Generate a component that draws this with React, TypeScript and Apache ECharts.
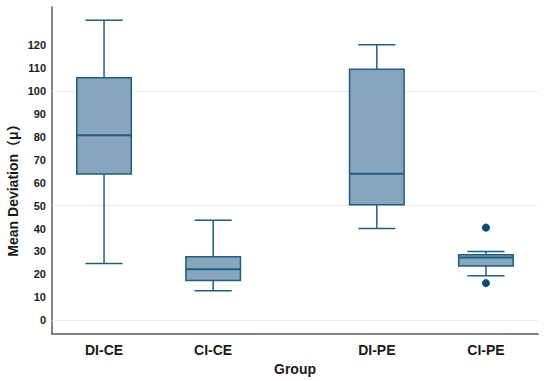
import React, { useEffect, useRef } from "react";
import * as echarts from "echarts";

const categories = ["DI-CE", "CI-CE", "DI-PE", "CI-PE"];
const positions = [0, 1, 2.5, 3.5];
// [min, Q1, median, Q3, max]
const boxValues = [
  [24.8, 63.8, 80.6, 105.7, 130.7],
  [12.9, 17.3, 22.3, 27.7, 43.6],
  [40.0, 50.3, 63.9, 109.4, 120.1],
  [19.4, 23.7, 27.4, 28.6, 30.0],
];
const outliers = [
  [3.5, 40.4],
  [3.5, 16.2],
];
const yTicks = [0, 10, 20, 30, 40, 50, 60, 70, 80, 90, 100, 110, 120];
const gridValues = [0, 50, 100];

const FONT = "'Liberation Sans', 'Noto Sans CJK JP', sans-serif";
const STROKE = "#225d7d";
const FILL = "#86a6bd";

export default function App() {
  const ref = useRef<HTMLDivElement>(null);
  useEffect(() => {
    document.body.style.margin = "0";
    if (!ref.current) return;
    const chart = echarts.init(ref.current, null, { renderer: "svg" });
    const data = boxValues.map((b, i) => [positions[i], ...b]);
    chart.setOption({
      animation: false,
      backgroundColor: "#ffffff",
      grid: { left: 52, right: 12, top: 7, bottom: 46 },
      xAxis: {
        type: "value",
        min: -0.477,
        max: 3.977,
        splitLine: { show: false },
        axisTick: { show: false },
        axisLine: { show: true, onZero: false, lineStyle: { color: "#5a5a5a", width: 1.5 } },
        axisLabel: {
          customValues: positions,
          margin: 9,
          fontSize: 14,
          fontWeight: "bold",
          color: "#1a1a1a",
          fontFamily: FONT,
          formatter: (v: number) => {
            const i = positions.findIndex((p) => Math.abs(p - v) < 1e-6);
            return i >= 0 ? categories[i] : "";
          },
        },
        name: "Group",
        nameLocation: "middle",
        nameGap: 25,
        nameTextStyle: { fontSize: 14, fontWeight: "bold", color: "#1a1a1a", fontFamily: FONT },
      },
      yAxis: {
        type: "value",
        min: -6,
        max: 136.5,
        splitLine: { show: false },
        axisTick: { show: false },
        axisLine: { show: true, onZero: false, lineStyle: { color: "#5a5a5a", width: 1.5 } },
        axisLabel: {
          customValues: yTicks,
          margin: 6,
          fontSize: 11,
          fontWeight: "bold",
          color: "#1a1a1a",
          fontFamily: FONT,
        },
      },
      graphic: [
        {
          type: "text",
          x: 13,
          y: 187,
          rotation: Math.PI / 2,
          style: {
            text: "Mean Deviation（μ）",
            fontSize: 14,
            fontWeight: "bold",
            fill: "#1a1a1a",
            fontFamily: FONT,
            align: "center",
            verticalAlign: "middle",
          },
        },
      ],
      series: [
        {
          type: "custom",
          encode: { x: 0, y: [1, 2, 3, 4, 5] },
          data,
          z: 3,
          markLine: {
            silent: true,
            symbol: "none",
            label: { show: false },
            lineStyle: { color: "#e6ecef", width: 1, type: "solid" },
            data: gridValues.map((v) => ({ yAxis: v })),
            z: 1,
          },
          renderItem: (params: any, api: any) => {
            const x = api.value(0);
            const mn = api.coord([x, api.value(1)]);
            const q1 = api.coord([x, api.value(2)]);
            const md = api.coord([x, api.value(3)]);
            const q3 = api.coord([x, api.value(4)]);
            const mx = api.coord([x, api.value(5)]);
            const boxHalf = api.size([0.25, 0])[0];
            const capHalf = api.size([0.17, 0])[0];
            const cx = mn[0];
            const ls = { stroke: STROKE, lineWidth: 1.5 };
            return {
              type: "group",
              children: [
                { type: "line", shape: { x1: cx, y1: q3[1], x2: cx, y2: mx[1] }, style: ls },
                { type: "line", shape: { x1: cx, y1: q1[1], x2: cx, y2: mn[1] }, style: ls },
                { type: "line", shape: { x1: cx - capHalf, y1: mx[1], x2: cx + capHalf, y2: mx[1] }, style: ls },
                { type: "line", shape: { x1: cx - capHalf, y1: mn[1], x2: cx + capHalf, y2: mn[1] }, style: ls },
                {
                  type: "rect",
                  shape: { x: cx - boxHalf, y: q3[1], width: boxHalf * 2, height: q1[1] - q3[1] },
                  style: { fill: FILL, stroke: STROKE, lineWidth: 1.5 },
                },
                { type: "line", shape: { x1: cx - boxHalf, y1: md[1], x2: cx + boxHalf, y2: md[1] }, style: { stroke: STROKE, lineWidth: 2 } },
              ],
            };
          },
        },
        {
          type: "scatter",
          data: outliers,
          symbolSize: 8,
          itemStyle: { color: "#0d4a73", opacity: 1 },
          z: 4,
        },
      ],
    });
    return () => chart.dispose();
  }, []);
  return <div ref={ref} style={{ width: 550, height: 381 }} />;
}
